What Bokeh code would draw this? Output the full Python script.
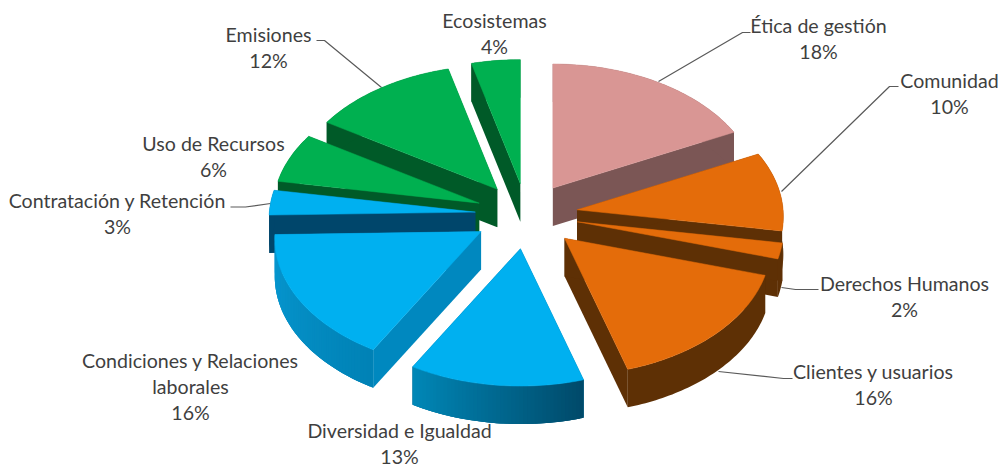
import numpy as np
from bokeh.core.properties import value
from bokeh.embed import file_html
from bokeh.models import ColumnDataSource, Range1d
from bokeh.plotting import figure
from bokeh.resources import INLINE

# Chart content, clockwise from twelve o'clock
categories = ["Ética de gestión", "Comunidad", "Derechos Humanos", "Clientes y usuarios",
              "Diversidad e Igualdad", "Condiciones y Relaciones laborales",
              "Contratación y Retención", "Uso de Recursos", "Emisiones", "Ecosistemas"]
shares = [18, 10, 2, 16, 13, 16, 3, 6, 12, 4]

# Label wrapping and placement
label_lines = [["Ética de gestión"], ["Comunidad"], ["Derechos Humanos"], ["Clientes y usuarios"],
               ["Diversidad e Igualdad"], ["Condiciones y Relaciones", "laborales"],
               ["Contratación y Retención"], ["Uso de Recursos"], ["Emisiones"], ["Ecosistemas"]]
label_x = [818, 949, 904, 873, 399, 190, 117, 213, 268, 494]
label_y = [25, 80, 283, 371, 430, 360, 200, 143, 34, 20]
LINE_STEP = 26

# Leader lines
leader_xs = [[658, 742, 750], [781, 889, 898], [781, 795, 818], [718, 783, 792], None, None,
             [270, 245, 230], None, [381, 324, 316], None]
leader_ys = [[81, 32, 32], [191, 86, 86], [287, 289, 289], [371, 378, 378], None, None,
             [203, 206.5, 206.5], None, [87, 40, 40], None]

# Colours: top face, edge wall, rim wall at the start and at the end of each slice
top_colors = ["#D99694", "#E46C0A", "#E46C0A", "#E46C0A", "#00B0F0", "#00B0F0", "#00B0F0",
              "#00B050", "#00B050", "#00B050"]
edge_colors = ["#7B5655", "#5E3005", "#5E3005", "#5E3005", "#004F70", "#0088BF", "#00466B",
               "#005A28", "#005A28", "#005A28"]
rim_start = ["#7B5655", "#5E3005", "#5E3005", "#5E3005", "#004A6A", "#0082B6", "#00466B",
             "#005A28", "#005A28", "#005A28"]
rim_end = ["#7B5655", "#5E3005", "#5E3005", "#5E3005", "#0088B8", "#0899D2", "#00466B",
           "#005A28", "#005A28", "#005A28"]

# Projection of the tilted pie
CX, CY = 526.0, 214.0
RX, RY = 206.0, 130.4
PERSPECTIVE = 0.051
TWIST = 1.3
EXPLODE = 0.25
DEPTH = 38.0


def project(deg):
    t = np.radians(np.asarray(deg, dtype=float))
    t = t - np.radians(TWIST) * (1 - np.cos(t))
    w = 1 + PERSPECTIVE * np.cos(t)
    return RX * np.sin(t) / w, -RY * np.cos(t) / w


def hex_mix(a, b, f):
    ca = [int(a[i:i + 2], 16) for i in (1, 3, 5)]
    cb = [int(b[i:i + 2], 16) for i in (1, 3, 5)]
    return "#%02x%02x%02x" % tuple(round(x + (y - x) * f) for x, y in zip(ca, cb))


p = figure(width=1004, height=467, output_backend="svg", toolbar_location=None,
           x_axis_type=None, y_axis_type=None, min_border=0,
           x_range=Range1d(0, 1004), y_range=Range1d(467, 0),
           outline_line_color=None, background_fill_color="white", border_fill_color="white")
p.grid.visible = False

# Leader lines sit under the slices
for xs, ys in zip(leader_xs, leader_ys):
    if xs:
        p.line(xs, ys, line_color="#5A5A5A", line_width=1.2)

edges = np.cumsum([0] + shares) * 3.6
slices = []
for i, share in enumerate(shares):
    a0, a1 = edges[i], edges[i + 1]
    ox, oy = project((a0 + a1) / 2)
    slices.append((CY + EXPLODE * oy, i, a0, a1, CX + EXPLODE * ox, CY + EXPLODE * oy))

# Paint from the back of the pie to the front
for _, i, a0, a1, ax, ay in sorted(slices):
    n = max(int(a1 - a0), 2)
    ang = np.linspace(a0, a1, n + 1)
    dx, dy = project(ang)
    rx, ry = ax + dx, ay + dy

    # Radial walls, then one solid rim band, then shading strips where the rim changes colour
    wall_x, wall_y, wall_c = [], [], []
    for k in (n, 0):
        wall_x.append([ax, rx[k], rx[k], ax])
        wall_y.append([ay, ry[k], ry[k] + DEPTH, ay + DEPTH])
        wall_c.append(edge_colors[i])
    wall_x.append(list(rx) + list(rx[::-1]))
    wall_y.append(list(ry) + list(ry[::-1] + DEPTH))
    wall_c.append(hex_mix(rim_start[i], rim_end[i], 0.5))
    if rim_start[i] != rim_end[i]:
        for k in range(n):
            j = min(k + 2, n)
            wall_x.append([rx[k], rx[j], rx[j], rx[k]])
            wall_y.append([ry[k], ry[j], ry[j] + DEPTH, ry[k] + DEPTH])
            wall_c.append(hex_mix(rim_start[i], rim_end[i], k / n))
    p.patches(xs="x", ys="y", source=ColumnDataSource(dict(x=wall_x, y=wall_y, c=wall_c)),
              fill_color="c", line_color=None)

    p.patch(list(np.r_[ax, rx]), list(np.r_[ay, ry]), fill_color=top_colors[i],
            line_color=top_colors[i], line_width=0.5)

# Category names and percentages
for lines, share, x, y in zip(label_lines, shares, label_x, label_y):
    rows = lines + [f"{share}%"]
    p.text(x=[x] * len(rows), y=[y + LINE_STEP * r for r in range(len(rows))], text=rows,
           text_font=value("Lato"), text_font_size="19.6px", text_color="#3F3F3F",
           text_align="center", text_baseline="middle")

open("out.html", "w").write(file_html(p, INLINE))
